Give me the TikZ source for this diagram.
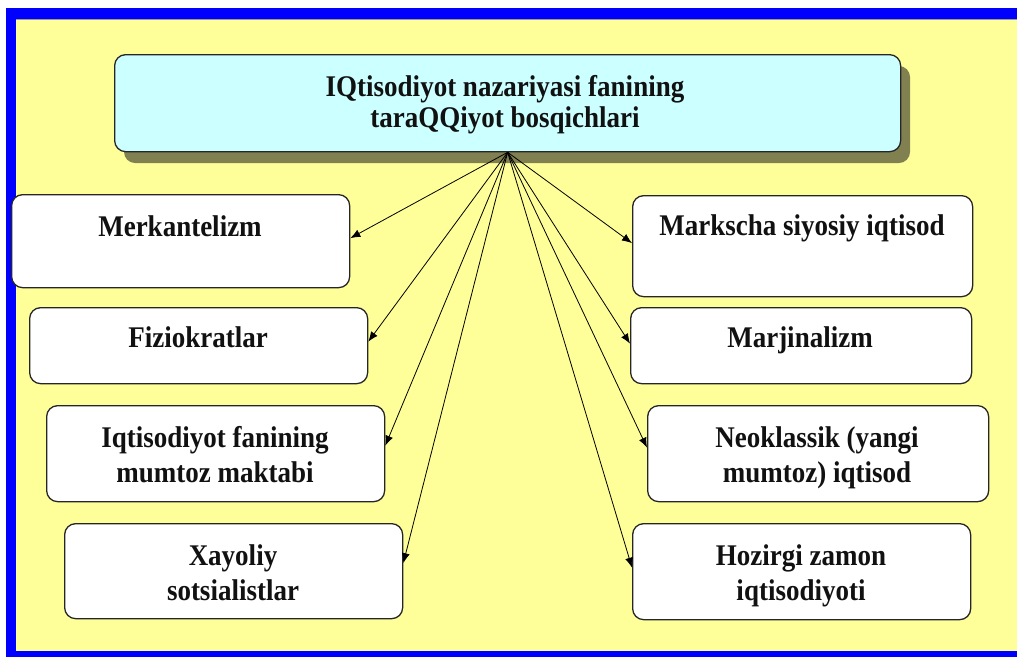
\documentclass[tikz,border=0pt]{standalone}
\usepackage{fontspec}
\setmainfont{Liberation Serif}[FakeStretch=0.9]
\usetikzlibrary{arrows.meta}
\definecolor{bgyellow}{RGB}{255,255,153}
\definecolor{frameblue}{RGB}{0,0,255}
\definecolor{topcyan}{RGB}{204,255,255}
\definecolor{shadowc}{RGB}{128,128,80}
\definecolor{txt}{RGB}{17,17,17}
\tikzset{
  wbox/.style={draw=black!85, line width=1.3pt, fill=white, rounded corners=11pt, inner sep=0pt, anchor=north west},
  tbox/.style={draw=black!85, line width=1.3pt, fill=topcyan, rounded corners=11pt, inner sep=0pt, anchor=north west},
  lbl/.style={font=\bfseries\fontsize{30}{33}\selectfont, text=txt, anchor=base, inner sep=0pt},
  conn/.style={draw=black, line width=0.8pt, -{Latex[length=10pt,width=8pt]}}
}
\begin{document}
\begin{tikzpicture}[x=1pt,y=-1pt]
\useasboundingbox (0,0) rectangle (1017,657);
\fill[white] (0,0) rectangle (1017,657);
\fill[frameblue] (6,8) rectangle (1017,657);
\fill[bgyellow] (16,19) rectangle (1017,651);
\draw[black!40, line width=0.6pt] (16,19.3) -- (1017,19.3);
% shadow of the title box
\fill[shadowc, rounded corners=11pt] (124,66) rectangle (910,163);
% title box
\node[tbox, minimum width=786pt, minimum height=97pt] (top) at (114,54) {};
\node[lbl] (ta) at (505,96) {IQtisodiyot nazariyasi fanining};
\node[lbl] (tb) at (505,127) {taraQQiyot bosqichlari};
% left boxes
\node[wbox, minimum width=338pt, minimum height=93pt] (L1) at (11,194) {};
\node[lbl] (l1a) at (180,236) {Merkantelizm};
\node[wbox, minimum width=338pt, minimum height=76pt] (L2) at (29,307) {};
\node[lbl] (l2a) at (198,347) {Fiziokratlar};
\node[wbox, minimum width=338pt, minimum height=96pt] (L3) at (46,405) {};
\node[lbl] (l3a) at (215,447) {Iqtisodiyot fanining};
\node[lbl] (l3b) at (215,482) {mumtoz maktabi};
\node[wbox, minimum width=338pt, minimum height=95pt] (L4) at (64,523) {};
\node[lbl] (l4a) at (233,565) {Xayoliy};
\node[lbl] (l4b) at (233,600) {sotsialistlar};
% right boxes
\node[wbox, minimum width=340pt, minimum height=101pt] (R1) at (632,195) {};
\node[lbl] (r1a) at (802,235) {Markscha siyosiy iqtisod};
\node[wbox, minimum width=341pt, minimum height=76pt] (R2) at (630,307) {};
\node[lbl] (r2a) at (800,347) {Marjinalizm};
\node[wbox, minimum width=341pt, minimum height=96pt] (R3) at (647,405) {};
\node[lbl] (r3a) at (817,447) {Neoklassik (yangi};
\node[lbl] (r3b) at (817,482) {mumtoz) iqtisod};
\node[wbox, minimum width=338pt, minimum height=96pt] (R4) at (632,523) {};
\node[lbl] (r4a) at (801,565) {Hozirgi zamon};
\node[lbl] (r4b) at (801,600) {iqtisodiyoti};
% connectors
\coordinate (src) at (top.south);
\draw[conn] (src) -- ([yshift=3pt]L1.east);
\draw[conn] (src) -- ([yshift=4pt]L2.east);
\draw[conn] (src) -- ([yshift=8pt]L3.east);
\draw[conn] (src) -- ([yshift=8pt]L4.east);
\draw[conn] (src) -- ([yshift=3pt]R1.west);
\draw[conn] (src) -- ([yshift=2pt]R2.west);
\draw[conn] (src) -- ([yshift=6pt]R3.west);
\draw[conn] (src) -- ([yshift=4pt]R4.west);
\end{tikzpicture}
\end{document}
